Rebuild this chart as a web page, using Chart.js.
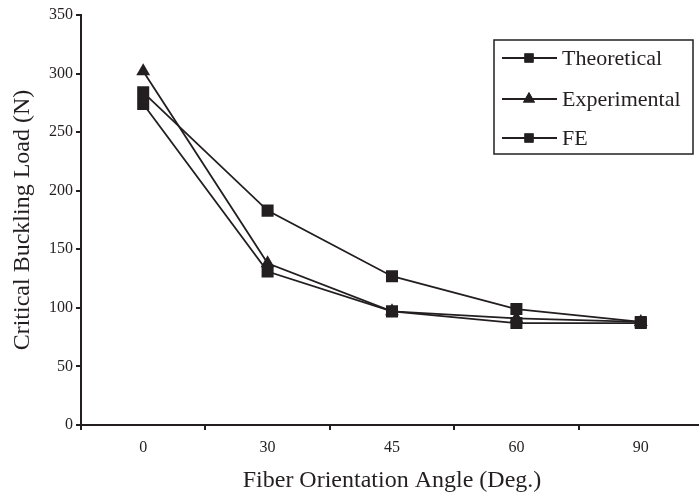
<!DOCTYPE html>
<html>
<head>
<meta charset="utf-8">
<script src="https://cdn.jsdelivr.net/npm/chart.js@4"></script>
<style>
  html, body { margin: 0; padding: 0; background: #fff; overflow: hidden; }
  #wrap { width: 703px; height: 498px; }
</style>
</head>
<body>
<div id="wrap"><canvas id="chart"></canvas></div>
<script>
const angles = ["0", "30", "45", "60", "90"];
const theoretical = [284, 183, 127, 99, 88];
const experimental = [302, 138, 97, 91, 88];
const fe = [274, 131, 97, 87, 87];
const yTicks = [0, 50, 100, 150, 200, 250, 300, 350];

const ink = "#231f20";
const serif = "'Liberation Serif', 'Times New Roman', serif";

// legend drawn as a framed box inside the plot, like the original figure
const boxLegend = {
  id: "boxLegend",
  afterDraw(chart) {
    const ctx = chart.ctx;
    ctx.save();
    ctx.strokeStyle = ink;
    ctx.lineWidth = 1.5;
    ctx.strokeRect(494, 40, 199, 114);
    const rows = [58, 99, 138];
    chart.data.datasets.forEach((ds, i) => {
      const y = rows[i];
      ctx.beginPath();
      ctx.moveTo(502, y);
      ctx.lineTo(557, y);
      ctx.lineWidth = 1.8;
      ctx.strokeStyle = ink;
      ctx.stroke();
      const r = ds.pointStyle === "triangle" ? 7 : 6.5;
      ctx.fillStyle = ink;
      Chart.helpers.drawPoint(ctx, { pointStyle: ds.pointStyle, radius: r, borderWidth: 0, rotation: 0 }, 529, y);
      ctx.fill();
      ctx.font = "22px " + serif;
      ctx.textBaseline = "middle";
      ctx.fillText(ds.label, 562, y + 1);
    });
    ctx.restore();
  }
};

function series(label, values, style, radius) {
  return {
    label: label,
    data: values,
    borderColor: ink,
    backgroundColor: ink,
    borderWidth: 1.8,
    pointStyle: style,
    pointRadius: radius,
    pointBorderWidth: 0,
    pointBackgroundColor: ink,
    tension: 0,
    fill: false
  };
}

new Chart(document.getElementById("chart"), {
  type: "line",
  data: {
    labels: angles,
    datasets: [
      series("Theoretical", theoretical, "rect", 8.5),
      series("Experimental", experimental, "triangle", 8),
      series("FE", fe, "rect", 8.5)
    ]
  },
  options: {
    responsive: true,
    maintainAspectRatio: false,
    animation: false,
    layout: { autoPadding: false, padding: { top: 15, right: 0, bottom: 0, left: 0 } },
    plugins: {
      legend: { display: false },
      tooltip: { enabled: false }
    },
    scales: {
      x: {
        offset: true,
        grid: {
          offset: true,
          drawOnChartArea: false,
          drawTicks: true,
          tickLength: 5,
          color: ink,
          lineWidth: 2
        },
        border: { color: ink, width: 2 },
        ticks: { color: ink, font: { family: serif, size: 16 }, padding: 8 },
        title: {
          display: true,
          text: "Fiber Orientation Angle (Deg.)",
          color: ink,
          font: { family: serif, size: 24 },
          padding: { top: 0, bottom: 3 }
        },
        afterFit(scale) {
          scale.height = 73;
          scale.paddingLeft = 0;
          scale.paddingRight = 0;
        }
      },
      y: {
        min: 0,
        max: 350,
        afterBuildTicks(scale) { scale.ticks = yTicks.map(v => ({ value: v })); },
        grid: {
          drawOnChartArea: false,
          drawTicks: true,
          tickLength: 5,
          color: ink,
          lineWidth: 2
        },
        border: { color: ink, width: 2 },
        ticks: { color: ink, font: { family: serif, size: 16 }, padding: 3 },
        title: {
          display: true,
          text: "Critical Buckling Load (N)",
          color: ink,
          font: { family: serif, size: 24 },
          padding: { top: 8, bottom: 0 }
        },
        afterFit(scale) { scale.width = 81; }
      }
    }
  },
  plugins: [boxLegend]
});
</script>
</body>
</html>
